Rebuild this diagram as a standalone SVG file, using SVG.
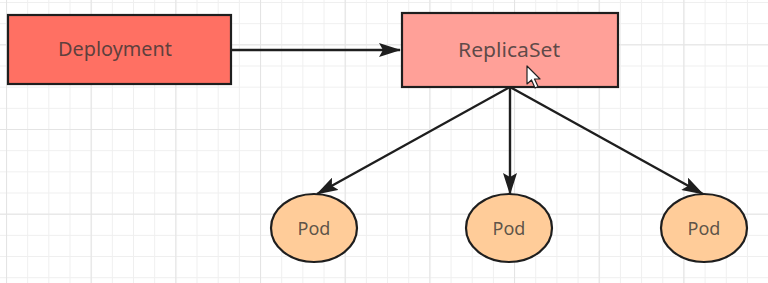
<svg xmlns="http://www.w3.org/2000/svg" width="768" height="283" viewBox="0 0 768 283">
  <style>
    .bg { fill: #ffffff; }
    .node { stroke: #1e1e1e; stroke-width: 2.2; }
    .dep { fill: #ff7063; }
    .rs { fill: #ffa098; }
    .pod { fill: #ffcc99; }
    .label { font-family: "Noto Sans", "Liberation Sans", sans-serif; font-size: 20px; fill: #333333; fill-opacity: 0.8; text-anchor: middle; }
    .podlabel { font-size: 18px; }
    .edge { fill: none; stroke: #1e1e1e; stroke-width: 2.4; }
  </style>
  <defs>
    <pattern id="minor" patternUnits="userSpaceOnUse" x="6" y="2" width="21.17" height="21.17">
      <path d="M0 0.5 H21.17 M0.5 0 V21.17" fill="none" stroke="#efefef" stroke-width="1"/>
    </pattern>
    <pattern id="major" patternUnits="userSpaceOnUse" x="6" y="44.33" width="84.67" height="84.67">
      <path d="M0 0.5 H84.67 M0.5 0 V84.67" fill="none" stroke="#e4e4e4" stroke-width="1.2"/>
    </pattern>
    <marker id="arrow" viewBox="0 0 22 14" refX="21" refY="7" markerWidth="22" markerHeight="14" markerUnits="userSpaceOnUse" orient="auto">
      <path d="M0 0 L22 7 L0 14 L4 7 Z" fill="#1e1e1e"/>
    </marker>
  </defs>

  <rect class="bg" x="0" y="0" width="768" height="283"/>
  <rect x="0" y="0" width="768" height="283" fill="url(#minor)"/>
  <rect x="0" y="0" width="768" height="283" fill="url(#major)"/>

  <g id="connectors">
    <path class="edge" d="M231 50 L400 50" marker-end="url(#arrow)"/>
    <path class="edge" d="M510 87 L317 194" marker-end="url(#arrow)"/>
    <path class="edge" d="M510 87 L510 194" marker-end="url(#arrow)"/>
    <path class="edge" d="M510 87 L703 194" marker-end="url(#arrow)"/>
  </g>

  <g id="deployment">
    <rect class="node dep" x="8" y="15" width="223" height="69"/>
    <text class="label" x="115" y="56" textLength="114" lengthAdjust="spacingAndGlyphs">Deployment</text>
  </g>

  <g id="replicaset">
    <rect class="node rs" x="402" y="13" width="216" height="74"/>
    <text class="label" x="509" y="57" textLength="102" lengthAdjust="spacingAndGlyphs">ReplicaSet</text>
  </g>

  <g id="pod1">
    <ellipse class="node pod" cx="314" cy="228" rx="43" ry="34"/>
    <text class="label podlabel" x="314" y="235">Pod</text>
  </g>

  <g id="pod2">
    <ellipse class="node pod" cx="509" cy="228" rx="43" ry="34"/>
    <text class="label podlabel" x="509" y="235">Pod</text>
  </g>

  <g id="pod3">
    <ellipse class="node pod" cx="704" cy="228" rx="43" ry="34"/>
    <text class="label podlabel" x="704" y="235">Pod</text>
  </g>

  <g id="cursor" transform="translate(527,66)">
    <path d="M0 0 L0 18 L4.5 14 L8 22 L11 20.5 L7.5 13 L13 13 Z" fill="#ffffff" stroke="#222222" stroke-width="1.2" stroke-linejoin="round"/>
  </g>
</svg>
